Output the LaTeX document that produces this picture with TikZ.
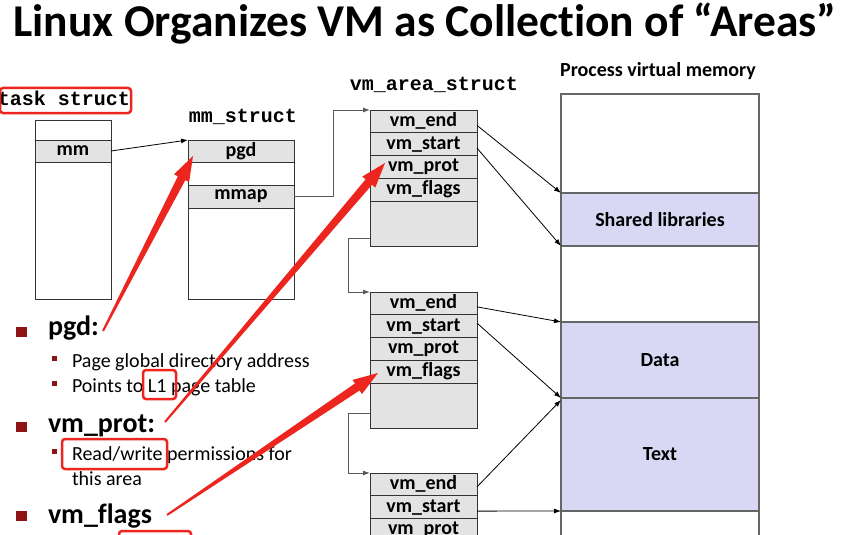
\documentclass[tikz,border=0pt]{standalone}
\usepackage{fontspec}
\setmainfont{Carlito}[Ligatures={NoCommon,NoRare}]
\newfontfamily\codefont{Liberation Mono}
\usetikzlibrary{calc,arrows.meta}
\definecolor{rowgray}{RGB}{227,227,227}
\definecolor{lav}{RGB}{216,216,245}
\definecolor{annred}{RGB}{236,38,30}
\definecolor{bulletred}{RGB}{140,20,20}
\definecolor{linkgray}{RGB}{90,90,90}
\newcommand\vmarea[2]{%
  \node[rowbox, anchor=north west] (#1-end) at (370,#2) {vm\_end};
  \node[rowbox, anchor=north] (#1-start) at (#1-end.south) {vm\_start};
  \node[rowbox, anchor=north] (#1-prot) at (#1-start.south) {vm\_prot};
  \node[rowbox, anchor=north] (#1-flags) at (#1-prot.south) {vm\_flags};
  \node[rowbox, minimum height=45pt, anchor=north] (#1-rest) at (#1-flags.south) {};
}
\newcommand\redarrow[2]{%
  \coordinate (rh) at ($(#2)!25pt!(#1)$);
  \fill[annred] ($(#1)!1pt!90:(#2)$) -- ($(rh)!4.2pt!90:(#2)$) -- ($(rh)!8.5pt!90:(#2)$)
     -- (#2) -- ($(rh)!8.5pt!-90:(#2)$) -- ($(rh)!4.2pt!-90:(#2)$) -- ($(#1)!1pt!-90:(#2)$) -- cycle;
}
\begin{document}
\begin{tikzpicture}[x=1pt,y=-1pt,
  every node/.style={inner sep=0pt, outer sep=0pt},
  frame/.style={draw=black!80, line width=0.9pt, fill=white},
  rowbox/.style={draw=black!80, line width=0.9pt, fill=rowgray, minimum width=107pt,
     minimum height=22.75pt, font=\fontsize{20}{22}\selectfont\bfseries},
  pvbox/.style={draw=black!60, line width=1.1pt, fill=white, minimum width=198pt,
     font=\fontsize{20}{22}\selectfont\bfseries},
  pvarea/.style={pvbox, fill=lav},
  codelabel/.style={font=\fontsize{20}{22}\selectfont\codefont\bfseries, anchor=base},
  blk/.style={draw=black, line width=0.8pt, -{Latex[length=7pt,width=5pt]}},
  lnk/.style={draw=linkgray, line width=0.9pt, -{Latex[length=7pt,width=5pt]}},
  annbox/.style={draw=annred, line width=2.5pt, rounded corners=3pt},
  headtext/.style={anchor=base west, font=\fontsize{28}{30}\selectfont\bfseries},
  subtext/.style={anchor=base west, font=\fontsize{20}{22}\selectfont},
  bigsq/.style={fill=bulletred, minimum width=11pt, minimum height=10.5pt},
  smallsq/.style={fill=bulletred, minimum size=5.5pt}
]
\useasboundingbox (0,0) rectangle (849,535);
\clip (0,0) rectangle (849,535);

% title
\node[anchor=base, font=\fontsize{45.5}{50}\selectfont\bfseries] (title) at (425,37)
  {Linux Organizes VM as Collection of “Areas”};

% task struct
\node[codelabel] (tasklbl) at (64,106) {task struct};
\node[frame, minimum width=76pt, minimum height=179pt, anchor=north west] (task) at (35,120) {};
\node[rowbox, minimum width=76pt, minimum height=22pt, anchor=north west] (tmm) at (35,140) {mm};

% mm struct
\node[codelabel] (mmlbl) at (243,122) {mm\_struct};
\node[frame, minimum width=106pt, minimum height=159pt, anchor=north west] (mms) at (188,140) {};
\node[rowbox, minimum width=106pt, minimum height=22pt, anchor=north west] (pgd) at (188,140) {pgd};
\node[rowbox, minimum width=106pt, minimum height=23pt, anchor=north west] (mmap) at (188,185) {mmap};

% vm areas
\node[codelabel] (vmlbl) at (434,91) {vm\_area\_struct};
\vmarea{v1}{110}
\vmarea{v2}{292}
\vmarea{v3}{473}

% process virtual memory
\node[anchor=base, font=\fontsize{20}{22}\selectfont\bfseries] (pvlbl) at (658,77) {Process virtual memory};
\node[pvbox, minimum height=99pt, anchor=north west] (pv-top) at (561,94) {};
\node[pvarea, minimum height=53pt, anchor=north] (pv-shared) at (pv-top.south) {Shared libraries};
\node[pvbox, minimum height=76pt, anchor=north] (pv-gap) at (pv-shared.south) {};
\node[pvarea, minimum height=76pt, anchor=north] (pv-data) at (pv-gap.south) {Data};
\node[pvarea, minimum height=113pt, anchor=north] (pv-text) at (pv-data.south) {Text};
\node[pvbox, minimum height=40pt, anchor=north] (pv-bot) at (pv-text.south) {};

% connectors
\draw[blk] (tmm.east) -- (pgd.north west);
\draw[lnk] (mmap.east) -- ++(39,0) |- (v1-end.north west);
\draw[lnk] ([yshift=-14.5pt]v1-rest.west) -- ++(-22,0) |- (v2-end.north west);
\draw[lnk] ([yshift=-7.5pt]v2-rest.west) -- ++(-22,0) |- (v3-end.north west);
\draw[blk] ([yshift=-4pt]v1-end.east) -- (pv-shared.north west);
\draw[blk] ([yshift=-4pt]v1-start.east) -- (pv-shared.south west);
\draw[blk] ([yshift=-3.5pt]v2-end.east) -- (pv-data.north west);
\draw[blk] ([yshift=3pt]v2-start.east) -- (pv-data.south west);
\draw[blk] ([yshift=-2.5pt]v3-end.east) -- ([yshift=-2pt]pv-text.north west);
\draw[blk] ([yshift=-4pt]v3-start.east) -- (pv-text.south west);

% bullets
\node[bigsq] (bq1) at (21,332) {};
\node[headtext] (hpgd) at (48,335) {pgd:};
\node[smallsq] (sq1) at (54.5,358.5) {};
\node[subtext] (t1) at (72,367) {Page global directory address};
\node[smallsq] (sq2) at (54.5,383.5) {};
\node[subtext] (t2) at (72,392) {Points to L1 page table};
\node[bigsq] (bq2) at (21,427) {};
\node[headtext] (hprot) at (48,432) {vm\_prot:};
\node[smallsq] (sq3) at (54.5,451.5) {};
\node[subtext] (t3) at (72,460) {Read/write permissions for};
\node[subtext] (t4) at (72,485) {this area};
\node[bigsq] (bq3) at (21,516) {};
\node[headtext] (hflags) at (48,523) {vm\_flags};

% red annotations
\draw[annbox] (0,88) rectangle (131,113);
\draw[annbox] (143,370) rectangle (176,399);
\draw[annbox] (62,439) rectangle (167,469);
\draw[annbox] (119,531) rectangle (191,552);
\coordinate (a1s) at (103,331);
\coordinate (a1t) at (193,156);
\coordinate (a2s) at (165,422);
\coordinate (a2t) at (385,163);
\coordinate (a3s) at (167,515);
\coordinate (a3t) at (378,373);
\redarrow{a1s}{a1t}
\redarrow{a2s}{a2t}
\redarrow{a3s}{a3t}
\end{tikzpicture}
\end{document}
